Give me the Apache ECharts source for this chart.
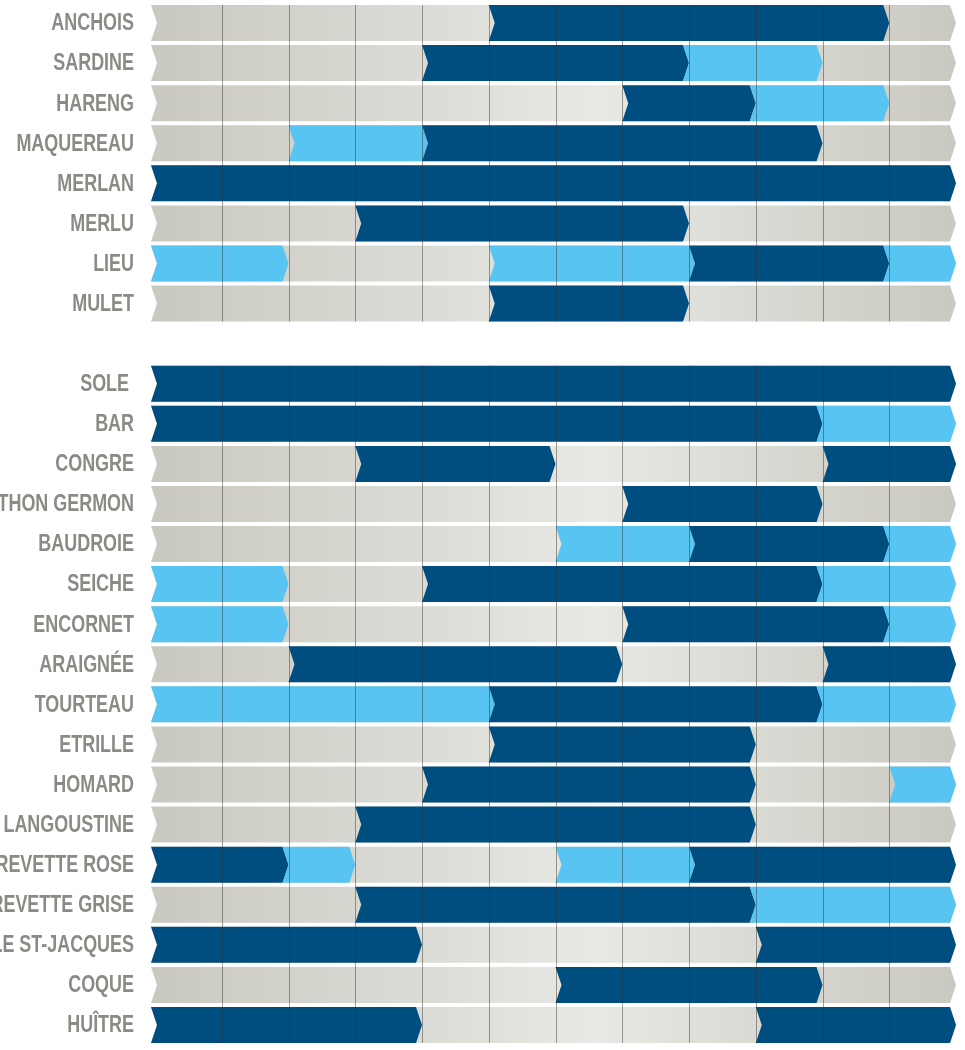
<!DOCTYPE html>
<html>
<head>
<meta charset="utf-8">
<script src="https://cdn.jsdelivr.net/npm/echarts@6/dist/echarts.min.js"></script>
<style>
  html, body { margin: 0; padding: 0; background: #ffffff; }
  #chart { width: 965px; height: 1050px; }
</style>
</head>
<body>
<div id="chart"></div>
<script>
// Month columns (Jan..Dec)
const months = ['J', 'F', 'M', 'A', 'M', 'J', 'J', 'A', 'S', 'O', 'N', 'D'];

// Species labels (blank entry = spacer between the two groups)
const species = [
  'ANCHOIS', 'SARDINE', 'HARENG', 'MAQUEREAU', 'MERLAN', 'MERLU', 'LIEU', 'MULET',
  '',
  'SOLE ', 'BAR', 'CONGRE', 'THON GERMON', 'BAUDROIE', 'SEICHE', 'ENCORNET', 'ARAIGNÉE',
  'TOURTEAU', 'ETRILLE', 'HOMARD', 'LANGOUSTINE', 'CREVETTE ROSE', 'CREVETTE GRISE',
  'COQUILLE ST-JACQUES', 'COQUE', 'HUÎTRE'
];

// Season status per month: 0 = hors saison, 1 = disponible, 2 = pleine saison
const seasons = [
  [0,0,0,0,0,2,2,2,2,2,2,0], // ANCHOIS
  [0,0,0,0,2,2,2,2,1,1,0,0], // SARDINE
  [0,0,0,0,0,0,0,2,2,1,1,0], // HARENG
  [0,0,1,1,2,2,2,2,2,2,0,0], // MAQUEREAU
  [2,2,2,2,2,2,2,2,2,2,2,2], // MERLAN
  [0,0,0,2,2,2,2,2,0,0,0,0], // MERLU
  [1,1,0,0,0,1,1,1,2,2,2,1], // LIEU
  [0,0,0,0,0,2,2,2,0,0,0,0], // MULET
  null,
  [2,2,2,2,2,2,2,2,2,2,2,2], // SOLE
  [2,2,2,2,2,2,2,2,2,2,1,1], // BAR
  [0,0,0,2,2,2,0,0,0,0,2,2], // CONGRE
  [0,0,0,0,0,0,0,2,2,2,0,0], // THON GERMON
  [0,0,0,0,0,0,1,1,2,2,2,1], // BAUDROIE
  [1,1,0,0,2,2,2,2,2,2,1,1], // SEICHE
  [1,1,0,0,0,0,0,2,2,2,2,1], // ENCORNET
  [0,0,2,2,2,2,2,0,0,0,2,2], // ARAIGNÉE
  [1,1,1,1,1,2,2,2,2,2,1,1], // TOURTEAU
  [0,0,0,0,0,2,2,2,2,0,0,0], // ETRILLE
  [0,0,0,0,2,2,2,2,2,0,0,1], // HOMARD
  [0,0,0,2,2,2,2,2,2,0,0,0], // LANGOUSTINE
  [2,2,1,0,0,0,1,1,2,2,2,2], // CREVETTE ROSE
  [0,0,0,2,2,2,2,2,2,1,1,1], // CREVETTE GRISE
  [2,2,2,2,0,0,0,0,0,2,2,2], // COQUILLE ST-JACQUES
  [0,0,0,0,0,0,2,2,2,2,0,0], // COQUE
  [2,2,2,2,0,0,0,0,0,2,2,2]  // HUÎTRE
];

const statusColors = { 1: '#58c4f1', 2: '#004d80' };

const rowData = [];
seasons.forEach((s, i) => { if (s) rowData.push([i]); });

function runs(codes) {
  const out = [];
  let start = 0;
  for (let m = 1; m <= codes.length; m++) {
    if (m === codes.length || codes[m] !== codes[start]) {
      out.push({ code: codes[start], from: start, to: m });
      start = m;
    }
  }
  return out;
}

const chart = echarts.init(document.getElementById('chart'), null, { renderer: 'canvas' });

const D = 6; // chevron depth

function renderItem(params, api) {
  const idx = api.value(0);
  const codes = seasons[idx];
  const yc = api.coord([0, idx])[1];
  const pitch = api.size([0, 1])[1];
  const h = 36;
  const top = yc - h / 2, bot = yc + h / 2;
  const X = k => api.coord([k, idx])[0];
  const children = [];

  // gray background chevron for the whole row
  const x0 = X(0), x12 = X(12);
  children.push({
    type: 'polygon',
    shape: { points: [[x0 - 4, top], [x12 - D, top], [x12, yc], [x12 - D, bot], [x0 - 4, bot], [x0 + 2, yc]] },
    style: {
      fill: {
        type: 'linear', x: x0, y: 0, x2: x12, y2: 0, global: true,
        colorStops: [
          { offset: 0, color: '#c9c9c1' },
          { offset: 0.55, color: '#e8e8e4' },
          { offset: 1, color: '#c9c9c1' }
        ]
      }
    }
  });

  const rs = runs(codes);
  // chevron boundary [topX, midX] between consecutive runs
  function boundary(j) {
    // boundary at the start of run j
    const a = X(rs[j].from);
    if (j === 0) return [a - 4, a + 2];
    const left = rs[j - 1].code, right = rs[j].code;
    if (left === 0 || (left === 1 && right === 2)) return [a, a + D];
    return [a - D, a];
  }
  rs.forEach((r, j) => {
    if (r.code === 0) return;
    const L = boundary(j);
    const b = X(r.to);
    const R = (j === rs.length - 1) ? [b - D, b] : boundary(j + 1);
    children.push({
      type: 'polygon',
      shape: { points: [[L[0], top], [R[0], top], [R[1], yc], [R[0], bot], [L[0], bot], [L[1], yc]] },
      style: { fill: statusColors[r.code] }
    });
  });

  // month separators
  const next = seasons[idx + 1];
  const lineBot = next ? top + pitch : bot;
  for (let k = 1; k < 12; k++) {
    const x = Math.round(X(k)) + 0.5;
    children.push({
      type: 'line',
      shape: { x1: x, y1: top, x2: x, y2: lineBot },
      style: { stroke: 'rgba(45,45,35,0.45)', lineWidth: 1 }
    });
  }

  // species label (condensed bold)
  children.push({
    type: 'text',
    x: x0 - 21,
    y: yc + 1,
    scaleX: 0.78,
    style: {
      text: species[idx],
      x: 0, y: 0,
      align: 'right',
      verticalAlign: 'middle',
      fill: '#8b8b85',
      font: 'bold 23px "Liberation Sans", Arial, sans-serif'
    }
  });
  return { type: 'group', children };
}

chart.setOption({
  animation: false,
  backgroundColor: '#ffffff',
  grid: { left: 155, right: 9, top: 3, bottom: 5, containLabel: false, outerBoundsMode: 'none' },
  xAxis: {
    type: 'value', min: 0, max: 12, interval: 1,
    show: false
  },
  yAxis: {
    type: 'category',
    inverse: true,
    data: species,
    axisLine: { show: false },
    axisTick: { show: false },
    splitLine: { show: false },
    axisLabel: { show: false }
  },
  series: [{
    type: 'custom',
    renderItem: renderItem,
    data: rowData,
    encode: { x: -1, y: 0 },
    clip: false
  }]
});
</script>
</body>
</html>
